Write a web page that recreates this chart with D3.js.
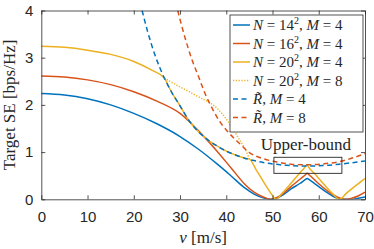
<!DOCTYPE html>
<html>
<head>
<meta charset="utf-8">
<script src="https://cdn.jsdelivr.net/npm/d3@7"></script>
<style>
  body { margin: 0; background: #fff; }
  svg { display: block; }
  .tick text { font-family: "Liberation Sans", Arial, sans-serif; font-size: 15px; fill: #262626; }
  .serif { font-family: "Liberation Serif", "Times New Roman", serif; fill: #262626; }
</style>
</head>
<body>
<div class="chart"></div>
<script>
// speed axis values [m/s] and target SE values [bps/Hz]
const vBlue = [0, 5, 10, 15, 20, 25, 30, 34, 38, 41, 44, 46, 48, 49.5, 50.5, 52, 54, 56, 57, 57.5, 58, 60, 62, 63.5, 65, 67, 68.5, 70];
const seBlue = [2.24, 2.21, 2.13, 2.0, 1.82, 1.6, 1.33, 1.06, 0.75, 0.5, 0.24, 0.11, 0.03, 0, 0.01, 0.08, 0.22, 0.34, 0.41, 0.44, 0.41, 0.27, 0.13, 0.04, 0, 0, 0.02, 0.05];

const vRed = [0, 5, 10, 15, 20, 25, 30, 34, 38, 41, 44, 46, 48, 49.5, 50.5, 52, 54, 56, 57, 57.5, 58, 60, 62, 64, 65.5, 67, 68.5, 70];
const seRed = [2.61, 2.59, 2.53, 2.43, 2.28, 2.08, 1.82, 1.45, 1.02, 0.67, 0.32, 0.15, 0.05, 0, 0.02, 0.1, 0.27, 0.43, 0.51, 0.55, 0.51, 0.33, 0.17, 0.05, 0, 0.02, 0.07, 0.15];

const vYellow = [0, 5, 10, 15, 20, 24, 26.6, 28, 30, 32, 34, 36, 38, 40, 42, 44, 45, 46.5, 48, 49.5, 50.8, 52, 54, 56, 57, 57.4, 57.8, 59, 61, 63, 64.5, 66, 68, 70];
const seYellow = [3.24, 3.22, 3.16, 3.07, 2.92, 2.73, 2.57, 2.3, 1.98, 1.66, 1.43, 1.26, 1.13, 1.02, 0.94, 0.87, 0.85, 0.62, 0.38, 0.15, 0, 0.12, 0.34, 0.57, 0.68, 0.73, 0.68, 0.55, 0.33, 0.12, 0, 0.13, 0.29, 0.44];

const vDotted = [26.6, 28, 30, 32, 34, 36, 38, 40, 41.5, 43, 44, 45];
const seDotted = [2.57, 2.49, 2.38, 2.28, 2.17, 2.07, 1.93, 1.7, 1.48, 1.24, 1.08, 0.86];

const vRt4 = [21.8, 23, 24.5, 26.6, 28, 30, 32, 34, 36, 38, 40, 42, 44, 46, 48, 50, 53, 57, 61, 65, 70];
const seRt4 = [4.0, 3.55, 3.08, 2.57, 2.3, 1.98, 1.66, 1.43, 1.26, 1.13, 1.02, 0.94, 0.87, 0.82, 0.78, 0.75, 0.72, 0.705, 0.715, 0.75, 0.81];

const vRt8 = [29.5, 31, 32.5, 34, 35.5, 37, 38.5, 40, 41.5, 43, 45, 48, 51, 54, 57.3, 61, 65, 70];
const seRt8 = [4.0, 3.45, 2.98, 2.6, 2.22, 1.92, 1.66, 1.47, 1.31, 1.17, 0.99, 0.86, 0.79, 0.745, 0.73, 0.75, 0.81, 0.97];

const xTicks = [0, 10, 20, 30, 40, 50, 60, 70];
const yTicks = [0, 1, 2, 3, 4];

// upper-bound box extent (v and SE)
const boundV = [50.3, 65];
const boundSE = [0.55, 0.89];

const series = [
  { v: vBlue, se: seBlue, color: "#0072BD", dash: null, label: [["N", 1], [" = 14", 0], ["2", 2], [", ", 0], ["M", 1], [" = 4", 0]] },
  { v: vRed, se: seRed, color: "#D95319", dash: null, label: [["N", 1], [" = 16", 0], ["2", 2], [", ", 0], ["M", 1], [" = 4", 0]] },
  { v: vYellow, se: seYellow, color: "#EDB120", dash: null, label: [["N", 1], [" = 20", 0], ["2", 2], [", ", 0], ["M", 1], [" = 4", 0]] },
  { v: vDotted, se: seDotted, color: "#EDB120", dash: "1.2,1.6", label: [["N", 1], [" = 20", 0], ["2", 2], [", ", 0], ["M", 1], [" = 8", 0]] },
  { v: vRt4, se: seRt4, color: "#0072BD", dash: "5,3.5", label: [["R\u0303", 1], [", ", 0], ["M", 1], [" = 4", 0]] },
  { v: vRt8, se: seRt8, color: "#D95319", dash: "5,3.5", label: [["R\u0303", 1], [", ", 0], ["M", 1], [" = 8", 0]] }
];

const width = 374;
const height = 249;
const margin = { top: 10.5, right: 9, bottom: 49.7, left: 41.3 };
const graphWidth = width - margin.left - margin.right;
const graphHeight = height - margin.top - margin.bottom;

const x = d3.scaleLinear().domain([0, 70]).range([0, graphWidth]);
const y = d3.scaleLinear().domain([0, 4]).range([graphHeight, 0]);

const svg = d3.select(".chart")
  .append("svg")
  .attr("width", width)
  .attr("height", height);

svg.append("defs").append("clipPath").attr("id", "plotclip")
  .append("rect").attr("width", graphWidth).attr("height", graphHeight);

const graph = svg.append("g")
  .attr("transform", `translate(${margin.left}, ${margin.top})`);

// curves
const line = d3.line()
  .x(d => x(d[0]))
  .y(d => y(d[1]))
  .curve(d3.curveMonotoneX);

const curves = graph.append("g").attr("clip-path", "url(#plotclip)");
series.forEach(s => {
  curves.append("path")
    .datum(s.v.map((v, i) => [v, s.se[i]]))
    .attr("d", line)
    .attr("fill", "none")
    .attr("stroke", s.color)
    .attr("stroke-width", 1.5)
    .attr("stroke-dasharray", s.dash);
});

// axes with inward ticks on all sides
const axisColor = "#262626";
const styleAxis = g => {
  g.select(".domain").attr("stroke", axisColor).attr("stroke-width", 0.8);
  g.selectAll(".tick line").attr("stroke", axisColor).attr("stroke-width", 0.8);
};

graph.append("g")
  .attr("transform", `translate(0, ${graphHeight})`)
  .call(d3.axisBottom(x).tickValues(xTicks).tickFormat(d3.format("d")).tickSizeInner(-4).tickSizeOuter(0).tickPadding(12))
  .call(styleAxis);
graph.append("g")
  .call(d3.axisTop(x).tickValues(xTicks).tickSizeInner(-4).tickSizeOuter(0).tickFormat(""))
  .call(styleAxis);
graph.append("g")
  .call(d3.axisLeft(y).tickValues(yTicks).tickFormat(d3.format("d")).tickSizeInner(-4).tickSizeOuter(0).tickPadding(8))
  .call(styleAxis);
graph.append("g")
  .attr("transform", `translate(${graphWidth}, 0)`)
  .call(d3.axisRight(y).tickValues(yTicks).tickSizeInner(-4).tickSizeOuter(0).tickFormat(""))
  .call(styleAxis);

graph.selectAll(".tick text").attr("fill", axisColor);

// axis labels
svg.append("text")
  .attr("class", "serif")
  .attr("transform", `translate(15, ${margin.top + graphHeight / 2}) rotate(-90)`)
  .attr("text-anchor", "middle")
  .style("font-size", "17px")
  .text("Target SE [bps/Hz]");

const xl = svg.append("text")
  .attr("class", "serif")
  .attr("x", margin.left + x(35))
  .attr("y", 243)
  .attr("text-anchor", "middle")
  .style("font-size", "17px");
xl.append("tspan").style("font-style", "italic").text("v");
xl.append("tspan").text(" [m/s]");

// upper-bound box and label
graph.append("rect")
  .attr("x", x(boundV[0]))
  .attr("y", y(boundSE[1]))
  .attr("width", x(boundV[1]) - x(boundV[0]))
  .attr("height", y(boundSE[0]) - y(boundSE[1]))
  .attr("fill", "none")
  .attr("stroke", axisColor)
  .attr("stroke-width", 0.9);

graph.append("text")
  .attr("class", "serif")
  .attr("x", x(57.2))
  .attr("y", y(boundSE[1]) - 7.5)
  .attr("text-anchor", "middle")
  .style("font-size", "17px")
  .text("Upper-bound");

// legend
const legend = svg.append("g").attr("transform", "translate(230, 15)");
legend.append("rect")
  .attr("width", 133)
  .attr("height", 117)
  .attr("fill", "#fff")
  .attr("stroke", axisColor)
  .attr("stroke-width", 0.8);

series.forEach((s, i) => {
  const row = legend.append("g").attr("transform", `translate(0, ${10 + i * 18.5})`);
  row.append("line")
    .attr("x1", 3).attr("x2", 20)
    .attr("stroke", s.color)
    .attr("stroke-width", 1.5)
    .attr("stroke-dasharray", s.dash);
  const t = row.append("text")
    .attr("class", "serif")
    .attr("x", 23)
    .attr("y", 5)
    .style("font-size", "15px");
  let prev = null;
  s.label.forEach(([txt, kind]) => {
    const ts = t.append("tspan").text(txt);
    if (kind === 1) ts.style("font-style", "italic");
    if (kind === 2) ts.attr("dy", -6).style("font-size", "10px");
    if (prev === 2) ts.attr("dy", 6);
    prev = kind;
  });
});
</script>
</body>
</html>
